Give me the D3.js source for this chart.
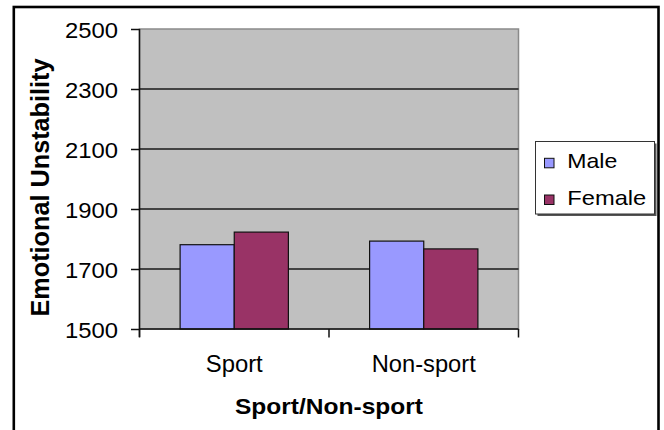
<!DOCTYPE html>
<html><head><meta charset="utf-8">
<script src="https://cdn.jsdelivr.net/npm/d3@7"></script>
<style>body{margin:0;background:#fff}svg{display:block}text{font-family:"Liberation Sans",Arial,sans-serif;fill:#000}</style>
</head><body>
<svg id="c" width="664" height="430"></svg>
<script>
const categories = ["Sport", "Non-sport"];
const seriesNames = ["Male", "Female"];
const male = [1781, 1793];
const female = [1823, 1767];
const yTicks = [1500, 1700, 1900, 2100, 2300, 2500];
const colors = {Male: "#9999FF", Female: "#993366"};

const svg = d3.select("#c");
// outer frame
svg.append("rect").attr("x", 13.8).attr("y", 7).attr("width", 644.7).attr("height", 440)
  .attr("fill", "none").attr("stroke", "#000").attr("stroke-width", 2.6);

const L = 139.5, R = 518.5, T = 29, B = 329;
const x0 = d3.scaleBand().domain(categories).range([L, R]).padding(0);
const x1 = d3.scaleBand().domain(seriesNames).range([0, x0.bandwidth()]).paddingInner(0).paddingOuter(0.75);
const y = d3.scaleLinear().domain([1500, 2500]).range([B, T]);

// plot area
svg.append("rect").attr("x", L).attr("y", T).attr("width", R - L).attr("height", B - T)
  .attr("fill", "#C0C0C0").attr("stroke", "#8a8a8a").attr("stroke-width", 1.5);

// gridlines
svg.append("g").selectAll("line").data(yTicks.filter(d => d > 1500 && d < 2500)).join("line")
  .attr("x1", L).attr("x2", R).attr("y1", d => y(d)).attr("y2", d => y(d))
  .attr("stroke", "#1a1a1a").attr("stroke-width", 1.5);

// bars
const data = categories.map((c, i) => ({cat: c, vals: [{s: "Male", v: male[i]}, {s: "Female", v: female[i]}]}));
const g = svg.append("g").selectAll("g").data(data).join("g")
  .attr("transform", d => `translate(${x0(d.cat)},0)`);
g.selectAll("rect").data(d => d.vals).join("rect")
  .attr("x", d => x1(d.s)).attr("width", x1.bandwidth())
  .attr("y", d => y(d.v)).attr("height", d => y(1500) - y(d.v))
  .attr("fill", d => colors[d.s]).attr("stroke", "#111").attr("stroke-width", 1.2);

// y axis
const yAxis = svg.append("g").attr("transform", `translate(${L},0)`)
  .call(d3.axisLeft(y).tickValues(yTicks).tickSize(8.5).tickPadding(13).tickFormat(d3.format("d")));
yAxis.select(".domain").attr("d", `M0,${T}V${B + 8}`).attr("stroke", "#111").attr("stroke-width", 1.5);
yAxis.selectAll(".tick line").attr("stroke", "#111").attr("stroke-width", 1.5);
yAxis.selectAll(".tick text").attr("font-size", 22.5).attr("font-family", "Liberation Sans, Arial, sans-serif")
  .attr("fill", "#000").attr("dy", "0.36em").attr("textLength", 53).attr("lengthAdjust", "spacingAndGlyphs");

// x axis
const xAxis = svg.append("g").attr("transform", `translate(0,${B})`);
xAxis.append("line").attr("x1", L).attr("x2", R).attr("y1", 0).attr("y2", 0).attr("stroke", "#111").attr("stroke-width", 1.5);
const bounds = [L, ...categories.map(c => x0(c) + x0.bandwidth())];
xAxis.selectAll("line.tk").data(bounds).join("line").attr("class", "tk")
  .attr("x1", d => d).attr("x2", d => d).attr("y1", 0).attr("y2", 8.5).attr("stroke", "#111").attr("stroke-width", 1.5);
const catW = {"Sport": 57, "Non-sport": 104};
xAxis.selectAll("text").data(categories).join("text")
  .attr("x", d => x0(d) + x0.bandwidth() / 2).attr("y", 43.3)
  .attr("text-anchor", "middle").attr("font-size", 23)
  .attr("textLength", d => catW[d]).attr("lengthAdjust", "spacingAndGlyphs").text(d => d);

// axis titles
svg.append("text").attr("x", 329).attr("y", 414).attr("text-anchor", "middle")
  .attr("font-size", 21.5).attr("font-weight", "bold")
  .attr("textLength", 188).attr("lengthAdjust", "spacingAndGlyphs").text("Sport/Non-sport");
svg.append("text").attr("transform", "translate(48.5,187.5) rotate(-90)").attr("text-anchor", "middle")
  .attr("font-size", 25).attr("font-weight", "bold")
  .attr("textLength", 258).attr("lengthAdjust", "spacingAndGlyphs").text("Emotional Unstability");

// legend
const lg = svg.append("g");
lg.append("rect").attr("x", 537.5).attr("y", 143.5).attr("width", 119).attr("height", 72.5).attr("fill", "#555");
lg.append("rect").attr("x", 535.5).attr("y", 141.5).attr("width", 119).attr("height", 72.5)
  .attr("fill", "#fff").attr("stroke", "#333").attr("stroke-width", 1);
const legW = {Male: 50, Female: 79};
const li = lg.selectAll("g.it").data(seriesNames).join("g").attr("class", "it")
  .attr("transform", (d, i) => `translate(0,${168.3 + i * 36.7})`);
li.append("rect").attr("x", 544.5).attr("y", -10).attr("width", 9.5).attr("height", 9.5)
  .attr("fill", d => colors[d]).attr("stroke", "#111").attr("stroke-width", 1);
li.append("text").attr("x", 567.3).attr("y", 0).attr("font-size", 21)
  .attr("textLength", d => legW[d]).attr("lengthAdjust", "spacingAndGlyphs").text(d => d);
</script>
</body></html>
